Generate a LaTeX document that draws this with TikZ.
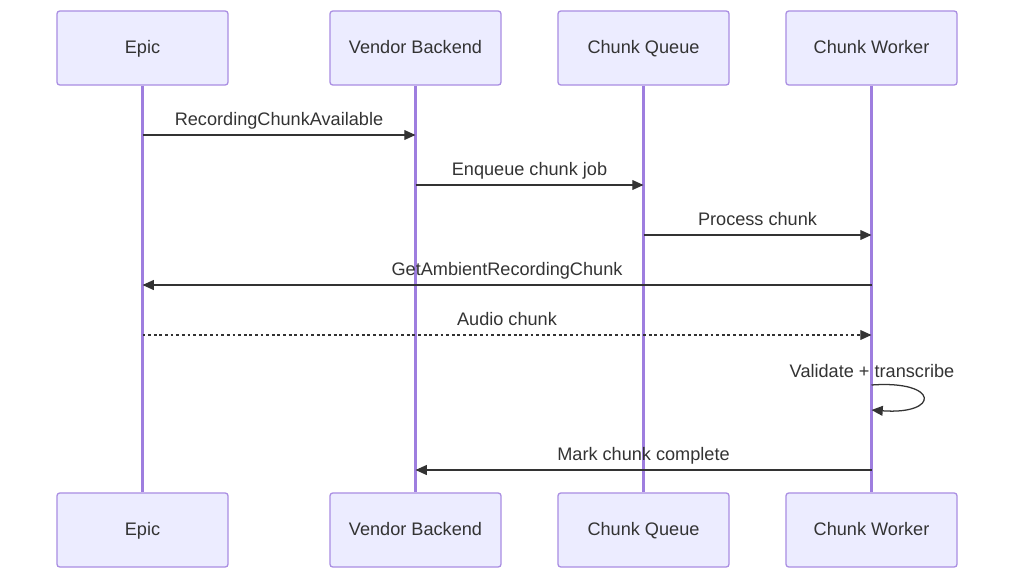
\documentclass[tikz,border=0pt]{standalone}
\usepackage{fontspec}
\setmainfont{Liberation Sans}
\usetikzlibrary{arrows.meta}
\definecolor{actfill}{HTML}{ECECFF}
\definecolor{actline}{HTML}{9370DB}
\definecolor{txt}{HTML}{333333}
\begin{document}
\begin{tikzpicture}[x=0.025cm,y=-0.025cm,
    actor/.style={draw=actline!80,line width=0.9pt,fill=actfill,rounded corners=2pt,
      minimum width=4.275cm,minimum height=1.85cm,text height=9pt,text depth=1pt,
      font=\fontsize{12.9}{15}\selectfont,text=txt},
    msg/.style={-{Triangle[length=8pt,width=7pt]},line width=0.9pt,draw=txt},
    lbl/.style={anchor=base,yshift=7pt,font=\fontsize{12.9}{15}\selectfont,text=txt,inner sep=0pt}]
  \useasboundingbox (0,0) rectangle (1024,585);
  % actors
  \node[actor] (epicT)  at (142.5,48) {Epic};
  \node[actor] (vendT)  at (415.5,48) {Vendor Backend};
  \node[actor] (queueT) at (643.5,48) {Chunk Queue};
  \node[actor] (workT)  at (871.5,48) {Chunk Worker};
  \node[actor] (epicB)  at (142.5,530) {Epic};
  \node[actor] (vendB)  at (415.5,530) {Vendor Backend};
  \node[actor] (queueB) at (643.5,530) {Chunk Queue};
  \node[actor] (workB)  at (871.5,530) {Chunk Worker};
  % lifelines
  \foreach \n in {epic,vend,queue,work}{ \draw[actline!90,line width=1.6pt] (\n T.south) -- (\n B.north); }
  % messages
  \draw[msg] (epicT.south |- 0,135) -- node[lbl]{RecordingChunkAvailable} (vendT.south |- 0,135);
  \draw[msg] (vendT.south |- 0,185) -- node[lbl]{Enqueue chunk job} (queueT.south |- 0,185);
  \draw[msg] (queueT.south |- 0,235) -- node[lbl]{Process chunk} (workT.south |- 0,235);
  \draw[msg] (workT.south |- 0,285) -- node[lbl]{GetAmbientRecordingChunk} (epicT.south |- 0,285);
  \draw[msg,dash pattern=on 2pt off 2pt] (epicT.south |- 0,335) -- node[lbl]{Audio chunk} (workT.south |- 0,335);
  % self call
  \node[lbl] (selfL) at (872,387) {Validate + transcribe};
  \draw[msg] (workT.south |- 0,385) .. controls (940,380) and (940,415) .. (workT.south |- 0,410);
  \draw[msg] (workT.south |- 0,470) -- node[lbl]{Mark chunk complete} (vendT.south |- 0,470);
\end{tikzpicture}
\end{document}
